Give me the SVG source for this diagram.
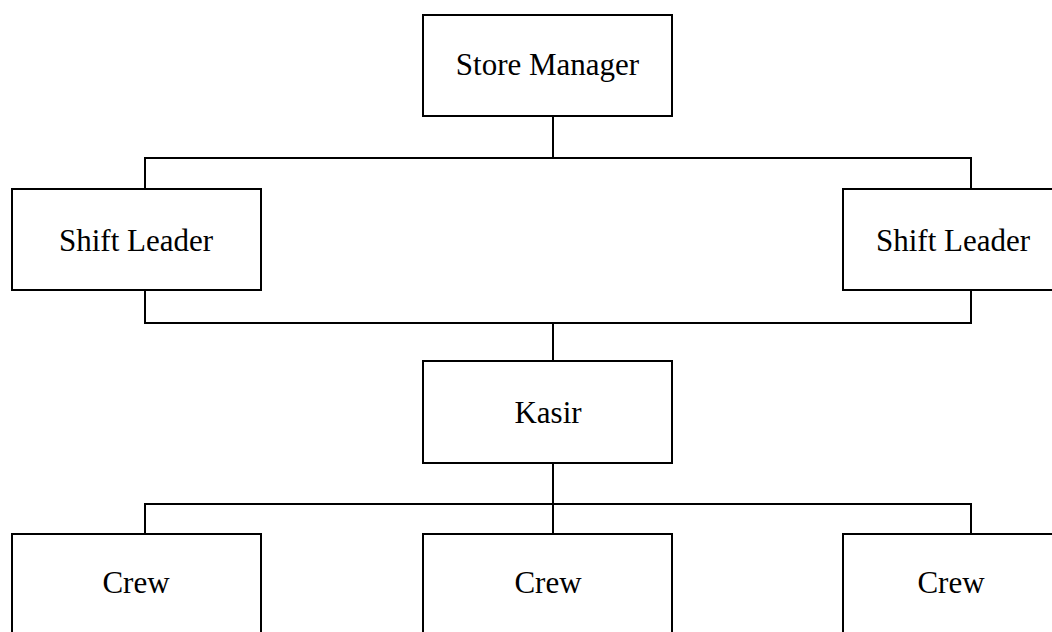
<svg xmlns="http://www.w3.org/2000/svg" width="1052" height="632" viewBox="0 0 1052 632">
<style>
.box{fill:#fff;stroke:#000;stroke-width:2}
.lbl{font-family:"Liberation Serif","Times New Roman",serif;font-size:31px;fill:#000;text-anchor:middle}
.conn{fill:none;stroke:#000;stroke-width:2}
</style>
<rect width="1052" height="632" fill="#fff"/>
<g id="connectors">
<path class="conn" d="M553 116V158M145 189V158H971V189"/>
<path class="conn" d="M145 290V323H971V290M553 323V361"/>
<path class="conn" d="M553 463V534M145 534V504H971V534"/>
</g>
<g id="store-manager"><rect class="box" x="423" y="15" width="249" height="101"/><text class="lbl" x="547.5" y="75">Store Manager</text></g>
<g id="shift-leader-left"><rect class="box" x="12" y="189" width="249" height="101"/><text class="lbl" x="136" y="251">Shift Leader</text></g>
<g id="shift-leader-right"><rect class="box" x="843" y="189" width="249" height="101"/><text class="lbl" x="953" y="251">Shift Leader</text></g>
<g id="kasir"><rect class="box" x="423" y="361" width="249" height="102"/><text class="lbl" x="548" y="423">Kasir</text></g>
<g id="crew-left"><rect class="box" x="12" y="534" width="249" height="110"/><text class="lbl" x="136" y="593">Crew</text></g>
<g id="crew-middle"><rect class="box" x="423" y="534" width="249" height="110"/><text class="lbl" x="548" y="593">Crew</text></g>
<g id="crew-right"><rect class="box" x="843" y="534" width="249" height="110"/><text class="lbl" x="951" y="593">Crew</text></g>
</svg>
